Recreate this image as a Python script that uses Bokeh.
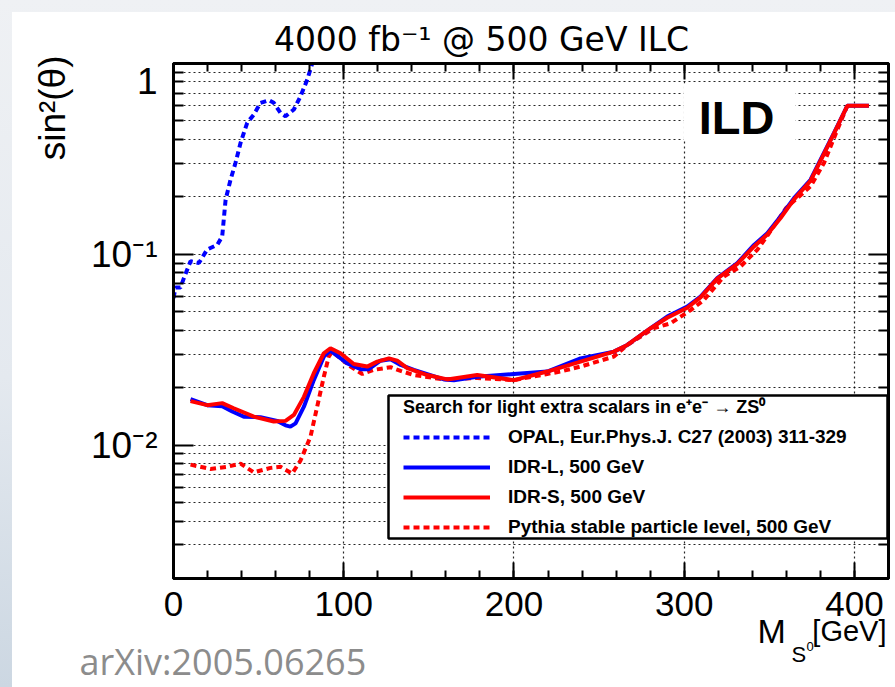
import math
from bokeh.plotting import figure
from bokeh.models import (FixedTicker, LinearAxis, LogAxis, Range1d, Label, Legend,
                          LegendItem, BoxAnnotation, Spacer)
from bokeh.layouts import row, column
from bokeh.core.properties import value
from bokeh.embed import file_html
from bokeh.resources import INLINE

# ---------------- data ----------------
opal_x = [0, 1.2, 4.1, 6.1, 10, 14.9, 19.8, 25.7, 28.6, 30.6, 33.5, 36.4, 39.4, 43.3,
          47.2, 51.1, 56, 58.9, 62.9, 65.8, 70.7, 74.6, 78.6, 81.5]
opal_y = [0.059, 0.067, 0.067, 0.075, 0.092, 0.090, 0.106, 0.112, 0.124, 0.193, 0.246,
          0.301, 0.384, 0.489, 0.540, 0.622, 0.642, 0.622, 0.551, 0.529, 0.574, 0.673,
          0.824, 1.0]

idrl_x = [10, 19.8, 28.6, 34.5, 41.3, 51.1, 60.9, 65.8, 68.7, 71.7, 76.6, 82.4, 88.3,
          92.2, 102.1, 109.9, 114.7, 121.6, 127.5, 133.4, 141.2, 158.8, 164.7, 178.4,
          200, 219.5, 239.1, 258.7, 266.6, 280.3, 290, 301.8, 309.6, 319.4, 331.2, 341,
          348.8, 356.6, 364.5, 374.2, 380.1, 388, 395.8, 408.5]
idrl_y = [0.0174, 0.0162, 0.0160, 0.0150, 0.0141, 0.0140, 0.0134, 0.0127, 0.0125, 0.0130,
          0.0159, 0.0219, 0.0291, 0.0313, 0.0268, 0.0250, 0.0250, 0.0277, 0.0282, 0.0263,
          0.0248, 0.0221, 0.0219, 0.0228, 0.0236, 0.0243, 0.0285, 0.0309, 0.0335, 0.0410,
          0.0472, 0.0532, 0.0601, 0.0750, 0.0899, 0.112, 0.129, 0.158, 0.197, 0.246,
          0.313, 0.433, 0.600, 0.600]

idrs_x = [10, 19.8, 28.6, 35.4, 47.2, 58.9, 65.8, 70.7, 76.6, 82.4, 88.3, 92.2, 98.1,
          105.9, 113.8, 119.7, 126.5, 131.4, 137.3, 149.1, 160.8, 178.4, 200, 219.5,
          239.1, 258.7, 266.6, 280.3, 290, 301.8, 309.6, 319.4, 331.2, 341, 348.8, 356.6,
          364.5, 374.2, 380.1, 388, 395.8, 408.5]
idrs_y = [0.0170, 0.0162, 0.0166, 0.0156, 0.0141, 0.0133, 0.0134, 0.0144, 0.0179, 0.0238,
          0.0303, 0.0322, 0.0303, 0.0266, 0.0258, 0.0274, 0.0285, 0.0277, 0.0253, 0.0233,
          0.0221, 0.0233, 0.0219, 0.0243, 0.0274, 0.0309, 0.0335, 0.0410, 0.0465, 0.0525,
          0.0595, 0.0745, 0.0890, 0.110, 0.127, 0.155, 0.194, 0.243, 0.310, 0.430, 0.600,
          0.600]

pyth_x = [10, 21.7, 31.6, 39.4, 47.2, 57, 62.9, 69.7, 74.6, 80.5, 84.4, 88.3, 91.2, 93.2,
          98.1, 104, 110.9, 117.7, 127.5, 133.4, 141.2, 158.8, 178.4, 200, 219.5, 227.4,
          239.1, 258.7, 266.6, 282.2, 292, 303.8, 311.6, 323.3, 333.1, 342.9, 348.8,
          359.9, 374.2, 382.1, 390, 395.8]
pyth_y = [0.0079, 0.0075, 0.0077, 0.0080, 0.0072, 0.0076, 0.0077, 0.0071, 0.0083, 0.0111,
          0.0159, 0.0228, 0.0291, 0.0309, 0.0285, 0.0258, 0.0236, 0.0248, 0.0256, 0.0245,
          0.0233, 0.0221, 0.0225, 0.0219, 0.0236, 0.0243, 0.0258, 0.0291, 0.0335, 0.0410,
          0.0435, 0.0510, 0.0577, 0.0765, 0.0863, 0.1056, 0.125, 0.175, 0.227, 0.301,
          0.451, 0.600]

x_major = [0, 100, 200, 300, 400]
x_major_labels = ["0", "100", "200", "300", "400"]
x_minor = list(range(0, 421, 20))
y_major = [0.01, 0.1, 1]
y_minor = [m * 10.0 ** e for e in (-3, -2, -1) for m in range(2, 10) if m * 10.0 ** e >= 0.002]
y_labels = {0.01: "10\u207b\u00b2", 0.1: "10\u207b\u00b9", 1: "1"}

legend_title = "Search for light extra scalars in e\u207ae\u207b \u2192 ZS\u2070"
labels = ["OPAL, Eur.Phys.J. C27 (2003) 311-329", "IDR-L, 500 GeV",
          "IDR-S, 500 GeV", "Pythia stable particle level, 500 GeV"]

X_START, X_END = 0, 420
Y_START, Y_END = 0.002, 1

# ---------------- geometry of the page (pixels) ----------------
LEFT_W = 64          # left text strip
MAIN_W, MAIN_H = 819, 522
TOP_H, BOT_H = 48, 105
MB_L, MB_R, MB_T, MB_B = 97, 7, 3, 4
FRAME_W = MAIN_W - MB_L - MB_R


def no_align(f):
    try:
        f.frame_align = False
    except Exception:
        pass


def strip(w, h, x_range=None, y_range=None):
    f = figure(width=w, height=h, x_range=x_range or Range1d(0, 1),
               y_range=y_range or Range1d(0, 1), output_backend="svg",
               toolbar_location=None, x_axis_location=None, y_axis_location=None,
               min_border=0, title_location=None)
    f.outline_line_color = None
    f.background_fill_color = "white"
    f.border_fill_color = "white"
    f.grid.visible = False
    no_align(f)
    return f


# ---------------- main figure ----------------
p = figure(width=MAIN_W, height=MAIN_H, x_range=Range1d(X_START, X_END),
           y_range=Range1d(Y_START, Y_END), y_axis_type="log", output_backend="svg",
           toolbar_location=None, title_location=None,
           min_border_left=MB_L, min_border_right=MB_R, min_border_top=MB_T,
           min_border_bottom=MB_B)
no_align(p)
p.background_fill_color = "white"
p.border_fill_color = "white"
p.outline_line_color = "black"
p.outline_line_width = 3

xt = FixedTicker(ticks=x_major, minor_ticks=x_minor)
yt = FixedTicker(ticks=y_major, minor_ticks=y_minor)


def hide_labels(ax):
    ax.major_label_text_font_size = "1px"
    ax.major_label_text_color = None
    ax.major_label_standoff = 0


def style_x(ax):
    ax.ticker = xt
    ax.axis_line_width = 3
    ax.major_tick_in = 16
    ax.major_tick_out = 0
    ax.minor_tick_in = 8
    ax.minor_tick_out = 0
    ax.major_tick_line_width = 2
    ax.minor_tick_line_width = 2
    hide_labels(ax)


def style_y(ax, show):
    ax.ticker = yt
    ax.axis_line_width = 3
    ax.major_tick_in = 20
    ax.major_tick_out = 0
    ax.minor_tick_in = 10
    ax.minor_tick_out = 0
    ax.major_tick_line_width = 2
    ax.minor_tick_line_width = 2
    if show:
        ax.major_label_overrides = y_labels
        ax.major_label_text_font = "Liberation Sans"
        ax.major_label_text_font_size = "37px"
        ax.major_label_text_color = "black"
        ax.major_label_standoff = 16
    else:
        hide_labels(ax)


style_x(p.xaxis[0])
style_y(p.yaxis[0], True)
top_ax = LinearAxis()
style_x(top_ax)
p.add_layout(top_ax, "above")
right_ax = LogAxis()
style_y(right_ax, False)
p.add_layout(right_ax, "right")

for g in (p.xgrid, p.ygrid):
    g.grid_line_color = "black"
    g.grid_line_dash = "2 3"
    g.grid_line_width = 1.2
    g.grid_line_alpha = 0.85
p.xgrid.ticker = FixedTicker(ticks=[100, 200, 300, 400])
p.ygrid.ticker = yt
p.ygrid.minor_grid_line_color = "black"
p.ygrid.minor_grid_line_dash = "2 3"
p.ygrid.minor_grid_line_width = 1.2
p.ygrid.minor_grid_line_alpha = 0.85

# ---------------- curves ----------------
r_opal = p.line(opal_x, opal_y, line_color="#0000ff", line_width=4, line_dash="6 4")
r_pyth = p.line(pyth_x, pyth_y, line_color="#ff0000", line_width=4, line_dash="6 4")
r_idrl = p.line(idrl_x, idrl_y, line_color="#0000ff", line_width=4)
r_idrs = p.line(idrs_x, idrs_y, line_color="#ff0000", line_width=4)

# ---------------- legend ----------------
p.add_layout(BoxAnnotation(left=215, right=714, bottom=40, top=183,
                           left_units="screen", right_units="screen",
                           bottom_units="screen", top_units="screen",
                           fill_color="white", fill_alpha=1,
                           line_color="black", line_alpha=1, line_width=2.5))
legend = Legend(items=[LegendItem(label=labels[0], renderers=[r_opal]),
                       LegendItem(label=labels[1], renderers=[r_idrl]),
                       LegendItem(label=labels[2], renderers=[r_idrs]),
                       LegendItem(label=labels[3], renderers=[r_pyth])],
                location=(230, 40), title=legend_title,
                title_text_font="Liberation Sans", title_text_font_style="bold",
                title_text_font_size="18px", title_text_color="black", title_standoff=8,
                label_text_font="Liberation Sans", label_text_font_style="bold",
                label_text_font_size="19px", label_text_color="black",
                label_height=20, label_standoff=18,
                glyph_width=87, glyph_height=20, spacing=8, padding=5, margin=0,
                border_line_color=None, background_fill_alpha=0)
p.add_layout(legend)

# ---------------- ILD ----------------
p.add_layout(BoxAnnotation(left=510, right=622, bottom=438, top=495,
                           left_units="screen", right_units="screen",
                           bottom_units="screen", top_units="screen",
                           fill_color="white", fill_alpha=1, line_color=None))
p.add_layout(Label(x=563, y=461, x_units="screen", y_units="screen", text="ILD",
                   text_align="center", text_baseline="middle",
                   text_font="Liberation Sans", text_font_style="bold",
                   text_font_size="47px", text_color="black"))

# ---------------- top strip: title ----------------
ts = strip(MAIN_W, TOP_H)
ts.add_layout(Label(x=405, y=21, x_units="screen", y_units="screen",
                    text="4000 fb\u207b\u00b9 @ 500 GeV ILC", text_align="center",
                    text_baseline="middle", text_font="DejaVu Sans",
                    text_font_size="33px", text_color="black"))

# ---------------- left strip: y title ----------------
ls = strip(LEFT_W, TOP_H + MAIN_H + BOT_H)
ls.add_layout(Label(x=40, y=632, x_units="screen", y_units="screen",
                    text="sin\u00b2(\u03b8)", angle=math.pi / 2, text_align="right",
                    text_baseline="middle", text_font="Liberation Sans",
                    text_font_size="37px", text_color="black"))

# ---------------- bottom strip: x tick labels, x title, arXiv ----------------
k = FRAME_W / (X_END - X_START)
bs = strip(MAIN_W, BOT_H,
           x_range=Range1d(X_START - MB_L / k, X_START + (MAIN_W - MB_L) / k),
           y_range=Range1d(0, BOT_H))
bs.text(x=x_major, y=[84] * len(x_major), text=x_major_labels, text_align="center",
        text_baseline="middle", text_font=value("Liberation Sans"),
        text_font_size=value("35px"), text_color="black")
for txt, sx, sy, size, align in [("M", 681, 57, "34px", "left"),
                                 ("S", 715, 33, "22px", "left"),
                                 ("0", 730, 41, "13px", "left"),
                                 ("[GeV]", 810, 57, "29px", "right")]:
    bs.add_layout(Label(x=sx, y=sy, x_units="screen", y_units="screen", text=txt,
                        text_align=align, text_baseline="middle",
                        text_font="Liberation Sans", text_font_size=size,
                        text_color="black"))
bs.add_layout(Label(x=3, y=26, x_units="screen", y_units="screen",
                    text="arXiv:2005.06265", text_align="left", text_baseline="middle",
                    text_font="Open Sans", text_font_size="36px", text_color="#8c8c8c"))

inner = row(ls, column(ts, p, bs), styles={"background": "white"})
layout = row(Spacer(width=12, height=687),
             column(Spacer(width=883, height=12), inner),
             styles={"background": "linear-gradient(to bottom, #eff1f4 0%, #e4e9ef 55%, #ccd7e2 100%)"})

open("out.html", "w").write(file_html(layout, INLINE))
